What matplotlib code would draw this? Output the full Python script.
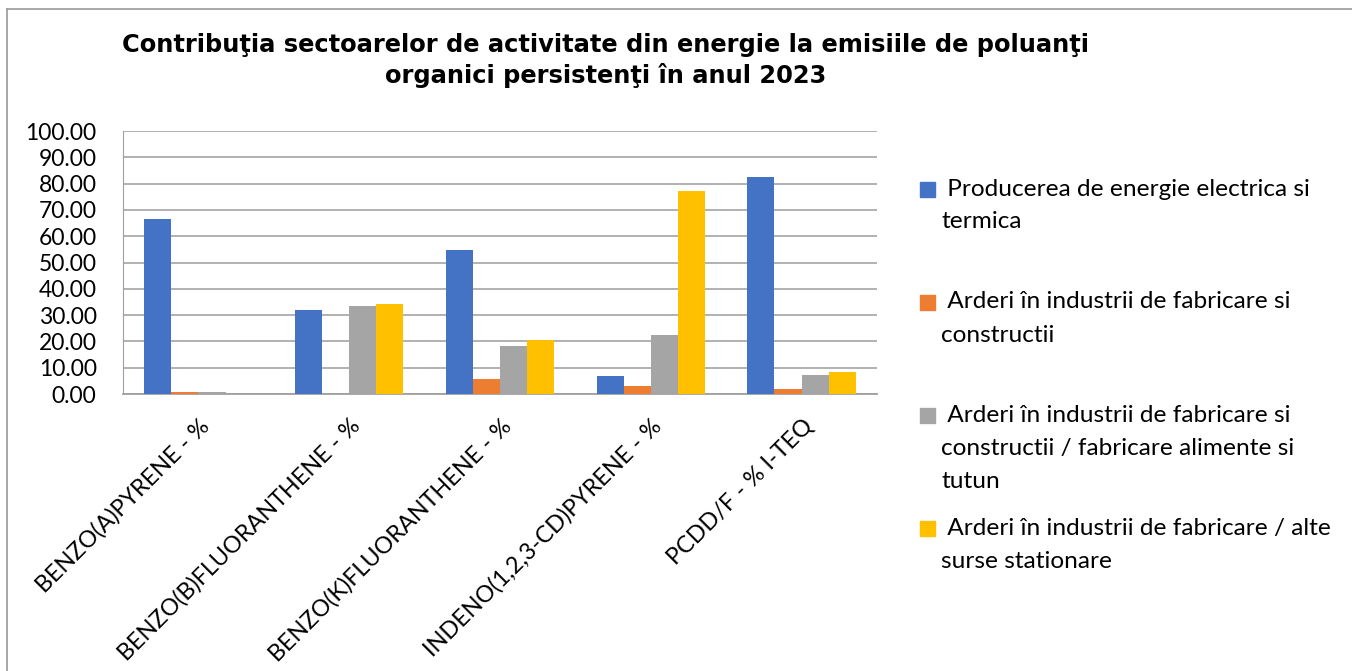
import matplotlib
matplotlib.use('Agg')
import matplotlib.pyplot as plt
from matplotlib.patches import Rectangle
from matplotlib.lines import Line2D
import numpy as np

# data
categories = ['BENZO(A)PYRENE - %', 'BENZO(B)FLUORANTHENE - %', 'BENZO(K)FLUORANTHENE - %',
              'INDENO(1,2,3-CD)PYRENE - %', 'PCDD/F - % I-TEQ']
productie_energie = [66.5, 32.0, 54.9, 6.8, 82.5]
arderi_constructii = [0.6, 0.0, 5.8, 2.9, 1.9]
arderi_alimente = [0.8, 33.5, 18.4, 22.4, 7.1]
arderi_alte = [0.0, 34.3, 20.4, 77.2, 8.4]

series_labels = [' Producerea de energie electrica si\ntermica',
                 ' Arderi în industrii de fabricare si\nconstructii',
                 ' Arderi în industrii de fabricare si\nconstructii / fabricare alimente si\ntutun',
                 ' Arderi în industrii de fabricare / alte\nsurse stationare']
colors = ['#4472C4', '#ED7D31', '#A5A5A5', '#FFC000']
yticks = np.arange(0, 101, 10)

W, H = 1352, 671
fig = plt.figure(figsize=(W / 100, H / 100), dpi=100)
fig.patch.set_facecolor('white')

# axes placed in pixel terms
left, right, top, bottom = 123, 877, 131, 394
ax = fig.add_axes([left / W, 1 - bottom / H, (right - left) / W, (bottom - top) / H])

allseries = [productie_energie, arderi_constructii, arderi_alimente, arderi_alte]
x = np.arange(len(categories))
bw = 0.18
for i, (vals, c) in enumerate(zip(allseries, colors)):
    ax.bar(x + (i - 1.5) * bw, vals, width=bw, color=c, zorder=3)

ax.set_xlim(-0.5, len(categories) - 0.5)
ax.set_ylim(0, 100)
ax.set_yticks(yticks)
ax.set_yticklabels(['%.2f' % v for v in yticks], fontsize=16.5, fontfamily='Lato')
ax.set_xticks(x)
ax.set_xticklabels(categories, rotation=45, ha='right', rotation_mode='anchor',
                   fontsize=16.8, fontfamily='Lato')
ax.tick_params(axis='y', length=0, pad=19)
ax.tick_params(axis='x', length=0, pad=15)
ax.grid(axis='y', color='#ababab', linewidth=1.3, zorder=0)
for s in ['top', 'right']:
    ax.spines[s].set_visible(False)
ax.spines['left'].set_color('#a0a0a0')
ax.spines['bottom'].set_color('#a0a0a0')
ax.spines['bottom'].set_linewidth(1.3)

# title
fig.text(606 / W, 1 - 45 / H, 'Contribuţia sectoarelor de activitate din energie la emisiile de poluanţi',
         ha='center', va='center', fontsize=17.4, fontweight='bold', fontfamily='DejaVu Sans')
fig.text(606 / W, 1 - 75 / H, 'organici persistenţi în anul 2023',
         ha='center', va='center', fontsize=17.4, fontweight='bold', fontfamily='DejaVu Sans')

# legend drawn by hand to keep Excel's uneven slots
first_line_y = [189, 302, 415, 528]
for lab, c, y0 in zip(series_labels, colors, first_line_y):
    fig.add_artist(Rectangle((920 / W, 1 - (y0 + 8) / H), 15 / W, 15 / H,
                             transform=fig.transFigure, color=c))
    lines = lab.split('\n')
    for k, ln in enumerate(lines):
        fig.text(941 / W, 1 - (y0 + 33 * k) / H, ln, ha='left', va='center',
                 fontsize=17.6, fontfamily='Lato')

# outer chart frame (left and top edges visible)
fig.add_artist(Line2D([7 / W, 7 / W], [0, 1 - 9 / H], transform=fig.transFigure,
                      color='#a0a0a0', linewidth=1.3))
fig.add_artist(Line2D([7 / W, 1], [1 - 9 / H, 1 - 9 / H], transform=fig.transFigure,
                      color='#a0a0a0', linewidth=1.3))

fig.savefig('out.png', dpi=100)
